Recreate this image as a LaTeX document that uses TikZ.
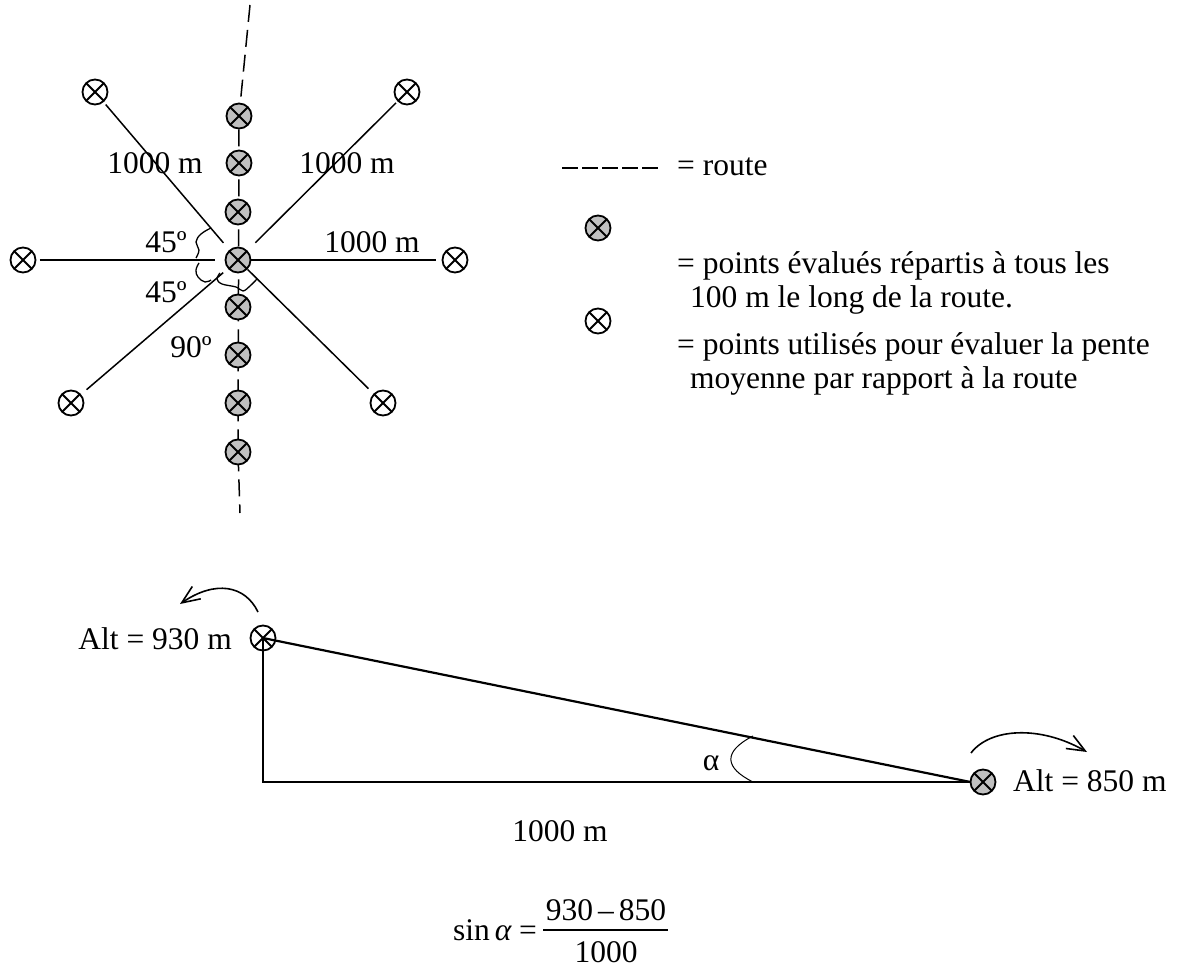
\documentclass[tikz,border=0pt]{standalone}
\usepackage{fontspec}
\setmainfont{Liberation Serif}
\usetikzlibrary{arrows.meta}
\definecolor{ptgray}{RGB}{192,192,192}
\pgfdeclarelayer{bg}
\pgfsetlayers{bg,main}
\begin{document}
\begin{tikzpicture}[x=1pt,y=-1pt,
  lbl/.style={font=\fontsize{31.5}{35}\selectfont, inner sep=0pt},
  pt/.style={circle, draw, line width=1.8pt, minimum size=25pt, inner sep=0pt, outer sep=0pt,
    path picture={\draw[line width=1.8pt] (path picture bounding box.north west) -- (path picture bounding box.south east) (path picture bounding box.north east) -- (path picture bounding box.south west);}},
  ev/.style={pt, fill=ptgray},
  ray/.style={line width=1.5pt},
  side/.style={line width=2.2pt},
  road/.style={line width=1.5pt, dash pattern=on 17pt off 8pt},
  bendarrow/.style={line width=1.6pt, -{Straight Barb[length=18pt,width=15pt]}}
]
\useasboundingbox (0,0) rectangle (1179,968);

% ---------- star diagram ----------
\node[ev] (E1) at (239,116) {};
\node[ev] (E2) at (239,163) {};
\node[ev] (E3) at (238,212) {};
\node[ev] (C)  at (238,260) {};
\node[ev] (E5) at (238,307) {};
\node[ev] (E6) at (238,355) {};
\node[ev] (E7) at (238,403) {};
\node[ev] (E8) at (238,452) {};
\coordinate (rtop) at (250,5);
\coordinate (rbot) at (240,513);
\begin{pgfonlayer}{bg}
\draw[road] (rtop) -- (E1.center) -- (E8.center) -- (rbot);
\end{pgfonlayer}

\node[pt] (TL) at (95,92) {};
\node[pt] (TR) at (407,92) {};
\node[pt] (L)  at (23,260) {};
\node[pt] (R)  at (455,260) {};
\node[pt] (BL) at (71,403) {};
\node[pt] (BR) at (383,403) {};

\draw[ray, shorten <=4pt, shorten >=10pt] (TL) -- (C);
\draw[ray, shorten <=3pt, shorten >=12pt] (TR) -- (C);
\draw[ray, shorten <=4pt, shorten >=11pt] (L) -- (C);
\draw[ray, shorten >=7pt] (C) -- (R);
\draw[ray, shorten <=8pt, shorten >=7pt] (BL) -- (C);
\draw[ray, shorten <=1pt, shorten >=8pt] (C) -- (BR);

% angle braces
\draw[line width=1.3pt] plot[smooth, tension=0.7] coordinates {(211,228) (201,234) (196,242) (199,250) (196,258)};
\draw[line width=1.3pt] plot[smooth, tension=0.7] coordinates {(199,263) (196,270) (198,277) (205,282) (211,280)};
\draw[line width=1.3pt] plot[smooth, tension=0.6] coordinates {(220,273) (217,279) (222,284) (236,287) (243,291) (250,286) (257,279)};

\node[lbl, anchor=base] (d1) at (155,174) {1000 m};
\node[lbl, anchor=base] (d2) at (347,174) {1000 m};
\node[lbl, anchor=base] (d3) at (372,253) {1000 m};
\node[lbl, anchor=base] (a1) at (166,253) {45º};
\node[lbl, anchor=base] (a2) at (166,303) {45º};
\node[lbl, anchor=base] (a3) at (191,358) {90º};

% ---------- legend ----------
\coordinate (ld1) at (562,168);
\coordinate (ld2) at (658,168);
\draw[line width=2pt, dash pattern=on 16pt off 4pt] (ld1) -- (ld2);
\node[lbl, anchor=base west] (lroute) at (677,176) {= route};
\node[ev] (lg1) at (598,228) {};
\node[pt] (lg2) at (598,321) {};
\node[lbl, anchor=base west] (l1) at (677,274) {= points évalués répartis à tous les};
\node[lbl, anchor=base west] (l2) at (690,308) {100 m le long de la route.};
\node[lbl, anchor=base west] (l3) at (677,355) {= points utilisés pour évaluer la pente};
\node[lbl, anchor=base west] (l4) at (690,389) {moyenne par rapport à la route};

% ---------- triangle ----------
\node[pt] (T) at (263,638) {};
\node[ev] (R2) at (983,782) {};
\coordinate (K) at (263,782);
\draw[side] (T.center) -- (K) -- (R2.west);
\draw[side] (T.center) -- (R2.west);
\draw[line width=1pt] (753,736) .. controls (722,752) and (725,768) .. (753,782);
\node[lbl, anchor=base] (alpha) at (711,770) {α};
\node[lbl, anchor=base] (base) at (560,841) {1000 m};
\node[lbl, anchor=base east] (alt1) at (232,649) {Alt = 930 m};
\node[lbl, anchor=base west] (alt2) at (1013,791) {Alt = 850 m};

\coordinate (a1s) at (258,612);
\coordinate (a1e) at (180,604);
\draw[bendarrow] (a1s) .. controls (245,585) and (215,580) .. (a1e);
\coordinate (a2s) at (971,753);
\coordinate (a2e) at (1087,752);
\draw[bendarrow] (a2s) .. controls (990,728) and (1040,725) .. (a2e);

% ---------- formula ----------
\node[lbl, anchor=base east] (sin) at (537,940) {sin\hspace{5pt}\textit{α}\hspace{7pt}=};
\node[lbl, anchor=base] (num) at (606,920) {930\hspace{5pt}–\hspace{5pt}850};
\node[lbl, anchor=base] (den) at (606,962) {1000};
\coordinate (f1) at (543,930);
\coordinate (f2) at (668,930);
\draw[line width=1.5pt] (f1) -- (f2);
\end{tikzpicture}
\end{document}
